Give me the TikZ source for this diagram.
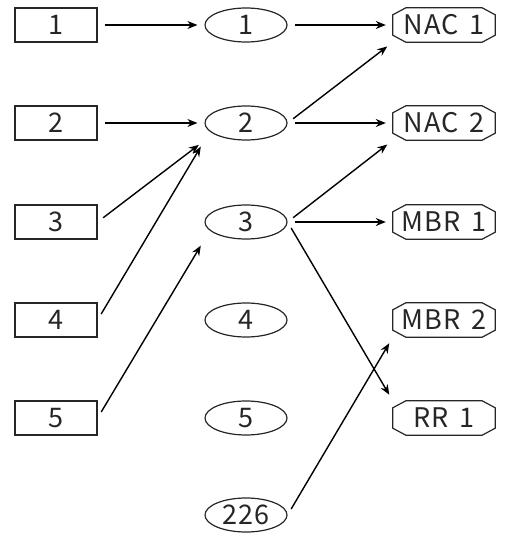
\documentclass[tikz,border=0pt]{standalone}
\usepackage{fontspec}
\setmainfont[WordSpace=1.6,LetterSpace=3]{Noto Sans CJK JP}
\usetikzlibrary{shapes.geometric,arrows.meta,calc}
\tikzset{
  lbl/.style={text=black!85, font=\fontsize{27}{30}\selectfont, text height=19pt, text depth=0pt, inner sep=0pt},
  box/.style={lbl, draw=black!85, line width=1.2pt, minimum width=82pt, minimum height=34pt},
  oval/.style={lbl, draw=black!85, line width=1.2pt, ellipse, minimum width=82pt, minimum height=34pt},
  octo/.style={lbl, rectangle, minimum width=102pt, minimum height=34pt},
  octline/.style={draw=black!85, line width=1.2pt, line join=miter},
  link/.style={line width=1.4pt, -{Stealth[length=10pt,width=8pt]}, shorten <=7pt, shorten >=7pt}
}
\begin{document}
\begin{tikzpicture}[x=1pt,y=-1pt]
\useasboundingbox (0,0) rectangle (504,535);
\node[box] (r1) at (56,25) {1};
\node[box] (r2) at (56,123) {2};
\node[box] (r3) at (56,222) {3};
\node[box] (r4) at (56,320) {4};
\node[box] (r5) at (56,418) {5};
\node[oval] (e1) at (246,25) {1};
\node[oval] (e2) at (246,123) {2};
\node[oval] (e3) at (246,222) {3};
\node[oval] (e4) at (246,320) {4};
\node[oval] (e5) at (246,418) {5};
\node[oval] (e6) at (246,515) {226};
\node[octo] (n1) at (444,25) {NAC 1};
\node[octo] (n2) at (444,123) {NAC 2};
\node[octo] (m1) at (444,222) {MBR 1};
\node[octo] (m2) at (444,320) {MBR 2};
\node[octo] (q1) at (444,418) {RR 1};
\foreach \n in {n1,n2,m1,m2,q1}
  \draw[octline] ($(\n.north west)+(13,0)$) -- ($(\n.north east)+(-13,0)$)
    -- ($(\n.north east)+(0,7)$) -- ($(\n.south east)+(0,-7)$)
    -- ($(\n.south east)+(-13,0)$) -- ($(\n.south west)+(13,0)$)
    -- ($(\n.south west)+(0,-7)$) -- ($(\n.north west)+(0,7)$) -- cycle;
\draw[link] (r1.east) -- (e1.west);
\draw[link] (r2.east) -- (e2.west);
\draw[link] (r3.east) -- (e2.west |- e2.south);
\draw[link] (r4.east) -- (e2.west |- e2.south);
\draw[link] (r5.east) -- (e3.west |- e3.south);
\draw[link] (e1.east) -- (n1.west);
\draw[link] (e2.east) -- (n1.west |- n1.south);
\draw[link] (e2.east) -- (n2.west);
\draw[link] (e3.east) -- (n2.west |- n2.south);
\draw[link] (e3.east) -- (m1.west);
\draw[link] (e3.east) -- (q1.west |- q1.north);
\draw[link] (e6.east) -- (m2.west |- m2.south);
\end{tikzpicture}
\end{document}
